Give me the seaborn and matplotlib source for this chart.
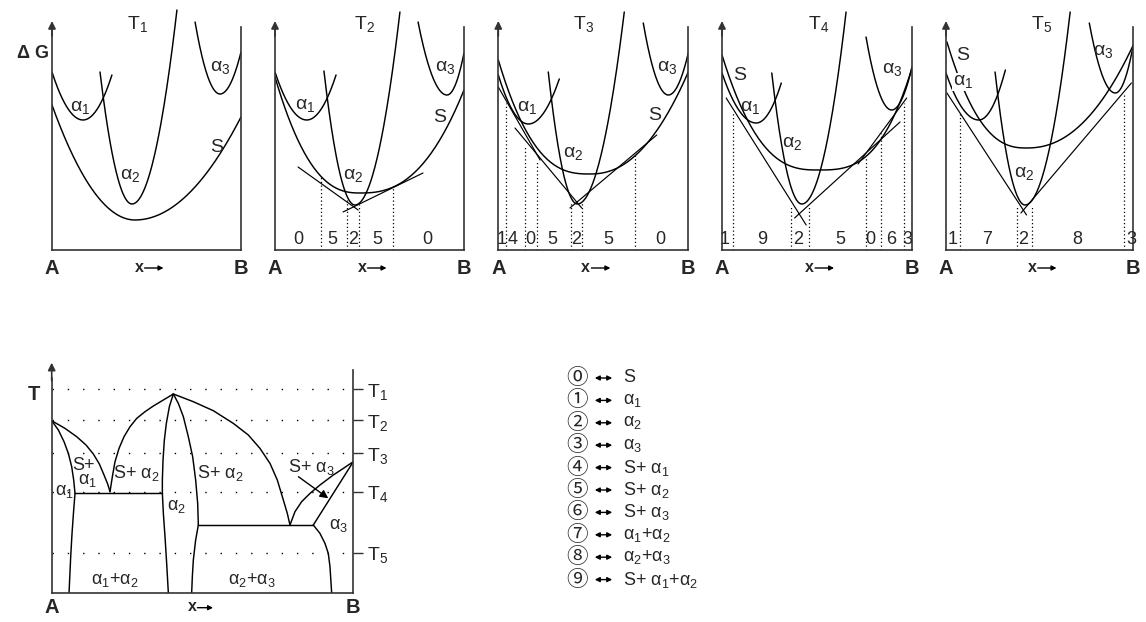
import numpy as np
import matplotlib
matplotlib.use("Agg")
import matplotlib.pyplot as plt
import seaborn as sns

sns.set_theme(style="white")
plt.rcParams["font.family"] = ["Liberation Sans", "DejaVu Sans"]
plt.rcParams["mathtext.fontset"] = "custom"
plt.rcParams["mathtext.rm"] = "Liberation Sans"
plt.rcParams["mathtext.it"] = "Liberation Sans:italic"
plt.rcParams["mathtext.bf"] = "Liberation Sans:bold"

# ------------------------------------------------------------------ data
panel_temps = ["1", "2", "3", "4", "5"]
# free-energy curves: (x_left, x_min, x_right, G_left, G_min, G_right)
alpha1_curves = [(0.0, 0.164, 0.317, 178, 130, 175),
                 (0.0, 0.168, 0.323, 178, 130, 175),
                 (0.0, 0.158, 0.321, 175, 126, 171),
                 (0.0, 0.180, 0.312, 177, 127, 167),
                 (0.0, 0.175, 0.317, 177, 130, 180)]
alpha2_curves = [(0.254, 0.423, 0.661, 178, 46, 240),
                 (0.259, 0.423, 0.661, 179, 45, 238),
                 (0.263, 0.416, 0.663, 178, 46, 238),
                 (0.262, 0.420, 0.653, 177, 46, 238),
                 (0.262, 0.422, 0.663, 178, 45, 238)]
alpha3_curves = [(0.757, 0.889, 1.0, 228, 156, 198),
                 (0.757, 0.910, 1.0, 228, 155, 197),
                 (0.763, 0.895, 1.0, 227, 155, 197),
                 (0.758, 0.893, 1.0, 213, 140, 183),
                 (0.765, 0.904, 1.0, 227, 157, 205)]
s_curves = [(0.0, 0.439, 1.0, 145, 30, 133),
            (0.0, 0.450, 1.0, 173, 57, 160),
            (0.0, 0.484, 1.0, 190, 76, 178),
            (0.0, 0.505, 1.0, 195, 80, 182),
            (0.005, 0.430, 1.0, 208, 102, 205)]
s_steepness = [(2.0, 2.0), (2.5, 2.5), (2.7, 2.2), (2.7, 3.0), (2.5, 2.2)]

# common tangents: (x1, G1, x2, G2)
tangent_lines = [[],
                 [(0.122, 83, 0.44, 40), (0.36, 38, 0.783, 77)],
                 [(0.0, 163, 0.22, 90), (0.088, 122, 0.439, 42), (0.377, 42, 0.834, 115)],
                 [(0.022, 152, 0.443, 25), (0.382, 32, 0.937, 128), (0.716, 86, 0.972, 152)],
                 [(0.005, 157, 0.43, 35), (0.40, 37, 0.99, 167)]]
# dotted composition limits (x, G at the tangent point)
limit_x = [[], [0.242, 0.383, 0.443, 0.623],
           [0.041, 0.141, 0.202, 0.381, 0.439, 0.72],
           [0.06, 0.362, 0.46, 0.756, 0.837, 0.958],
           [0.075, 0.38, 0.458, 0.948]]
limit_G = [[], [73, 50, 46, 62],
           [147, 105, 90, 47, 47, 95],
           [138, 45, 45, 93, 117, 147],
           [137, 43, 43, 155]]
region_x = [[], [0.122, 0.302, 0.413, 0.54, 0.804],
            [0.018, 0.077, 0.167, 0.283, 0.409, 0.577, 0.851],
            [0.016, 0.209, 0.402, 0.621, 0.782, 0.893, 0.975],
            [0.036, 0.218, 0.412, 0.699, 0.988]]
region_codes = [[], ["0", "5", "2", "5", "0"],
                ["1", "4", "0", "5", "2", "5", "0"],
                ["1", "9", "2", "5", "0", "6", "3"],
                ["1", "7", "2", "8", "3"]]
# curve labels (name, x, G)
curve_labels = [[("α$_1$", 0.15, 143), ("α$_2$", 0.415, 75), ("α$_3$", 0.89, 182), ("S", 0.873, 103)],
                [("α$_1$", 0.16, 145), ("α$_2$", 0.415, 75), ("α$_3$", 0.90, 182), ("S", 0.873, 132)],
                [("α$_1$", 0.15, 143), ("α$_2$", 0.395, 97), ("α$_3$", 0.89, 183), ("S", 0.824, 135)],
                [("S", 0.095, 175), ("α$_1$", 0.15, 143), ("α$_2$", 0.37, 107), ("α$_3$", 0.895, 180)],
                [("S", 0.091, 195), ("α$_1$", 0.09, 168), ("α$_2$", 0.415, 77), ("α$_3$", 0.84, 198)]]
temp_label_x = [0.45, 0.476, 0.45, 0.51, 0.51]

# phase diagram
T_levels = [203.3, 172.7, 139.3, 101.0, 40.0]
T_names = ["T$_1$", "T$_2$", "T$_3$", "T$_4$", "T$_5$"]
liquidus_a1_x = [0, 0.0442, 0.0829, 0.1138, 0.1381, 0.158, 0.1735, 0.1856, 0.1934]
liquidus_a1_t = [172, 164.3, 156, 147.7, 138.7, 128.7, 117.7, 108.7, 101]
solidus_a1_x = [0, 0.0221, 0.0409, 0.0552, 0.0663, 0.0729, 0.0773]
solidus_a1_t = [172, 162.7, 151, 139.3, 126, 112.7, 99.3]
solvus_a1_x = [0.0773, 0.0729, 0.0674, 0.063, 0.0575]
solvus_a1_t = [99.3, 82.7, 59.3, 36, 0]
eutectic1_x = [0.0773, 0.3669]
eutectic1_t = [99.3, 99.3]
liquidus_a2l_x = [0.1934, 0.2011, 0.2099, 0.2232, 0.2398, 0.2597, 0.2818, 0.3094, 0.337, 0.3702, 0.4033]
liquidus_a2l_t = [101, 116, 131, 144.3, 156, 166, 174.3, 181, 186.7, 192.7, 198.7]
solidus_a2l_x = [0.4033, 0.3901, 0.3801, 0.3735, 0.3691, 0.3669, 0.3669]
solidus_a2l_t = [198.7, 186, 169.3, 152.7, 132.7, 112.7, 99.3]
solvus_a2l_x = [0.3669, 0.3702, 0.3757, 0.3812, 0.3867]
solvus_a2l_t = [99.3, 79.3, 56, 29.3, 0]
solidus_a2r_x = [0.4033, 0.4199, 0.4365, 0.453, 0.4674, 0.4773, 0.4840, 0.4862]
solidus_a2r_t = [198.7, 189.3, 176, 156, 136, 112.7, 89.3, 67.7]
solvus_a2r_x = [0.4862, 0.4773, 0.4696, 0.4663, 0.4641]
solvus_a2r_t = [67.7, 52.7, 32.7, 16, 0]
eutectic2_x = [0.4862, 0.8674]
eutectic2_t = [67.7, 67.7]
liquidus_a2r_x = [0.4033, 0.4696, 0.5359, 0.6022, 0.6519, 0.6906, 0.7238, 0.748, 0.768, 0.7812, 0.79]
liquidus_a2r_t = [198.7, 191, 182, 169.3, 157.7, 144.3, 129.3, 112.7, 92.7, 79.3, 67.7]
liquidus_a3_x = [0.79, 0.8066, 0.8287, 0.8564, 0.8895, 0.9337, 0.9669, 1.0]
liquidus_a3_t = [67.7, 81, 91, 99.3, 107.7, 117.7, 124.3, 131]
solidus_a3_x = [1.0, 0.8674]
solidus_a3_t = [131, 67.7]
solvus_a3_x = [0.8674, 0.8895, 0.9061, 0.9171, 0.9227, 0.9282]
solvus_a3_t = [67.7, 59.3, 49.3, 39.3, 26, 0]

phase_labels = [("S+", 0.105, 127.7), ("α$_1$", 0.118, 112.7), ("α$_1$", 0.044, 101),
                ("S+ α$_2$", 0.282, 119.4), ("α$_2$", 0.414, 86), ("S+ α$_2$", 0.558, 119.4),
                ("S+ α$_3$", 0.862, 126), ("α$_3$", 0.95, 67.7),
                ("α$_1$+α$_2$", 0.21, 12.7), ("α$_2$+α$_3$", 0.663, 12.7)]

legend_codes = ["⓪", "①", "②", "③", "④", "⑤", "⑥", "⑦", "⑧", "⑨"]
legend_phases = ["S", "α$_1$", "α$_2$", "α$_3$", "S+ α$_1$", "S+ α$_2$", "S+ α$_3$",
                 "α$_1$+α$_2$", "α$_2$+α$_3$", "S+ α$_1$+α$_2$"]

# ------------------------------------------------------------------ drawing
W, H = 1146, 622
fig = plt.figure(figsize=(W / 100, H / 100), dpi=100)
fig.patch.set_facecolor("white")

AX_COL = "#333333"
LW = 1.05


def curve_xy(c, pl=2.0, pr=2.0):
    xl, xv, xr, gl, gv, gr = c
    xa = np.linspace(xl, xv, 80)
    ga = gv + (gl - gv) * ((xv - xa) / (xv - xl)) ** pl
    xb = np.linspace(xv, xr, 80)
    gb = gv + (gr - gv) * ((xb - xv) / (xr - xv)) ** pr
    return np.r_[xa, xb[1:]], np.r_[ga, gb[1:]]


def draw_line(ax, xs, ys, **kw):
    sns.lineplot(x=np.asarray(xs, float), y=np.asarray(ys, float), ax=ax, sort=False,
                 estimator=None, color="black", linewidth=kw.pop("lw", LW), **kw)


panel_left = [52, 275, 498.3, 722, 946]
panel_right = [241, 464, 688.3, 912, 1133.3]
top_bottom_px = 250

for i in range(5):
    L, R = panel_left[i], panel_right[i]
    ax = fig.add_axes([L / W, (H - top_bottom_px) / H, (R - L) / W, top_bottom_px / H])
    ax.set_xlim(0, 1)
    ax.set_ylim(0, 250)
    ax.patch.set_alpha(0)
    ax.set_xticks([])
    ax.set_yticks([])
    ax.spines["top"].set_visible(False)
    for side in ["left", "right", "bottom"]:
        ax.spines[side].set_color(AX_COL)
        ax.spines[side].set_linewidth(1.2)
    ax.spines["left"].set_bounds(0, 220)
    ax.spines["right"].set_bounds(0, 223)
    ax.annotate("", xy=(0, 229), xytext=(0, 214),
                arrowprops=dict(arrowstyle="-|>", color=AX_COL, lw=1.2, mutation_scale=11,
                                shrinkA=0, shrinkB=0), annotation_clip=False)

    for c in (alpha1_curves[i], alpha2_curves[i], alpha3_curves[i]):
        xs, ys = curve_xy(c)
        draw_line(ax, xs, ys)
    pl, pr = s_steepness[i]
    xs, ys = curve_xy(s_curves[i], pl, pr)
    draw_line(ax, xs, ys)

    for (x1, g1, x2, g2) in tangent_lines[i]:
        draw_line(ax, [x1, x2], [g1, g2], lw=0.85)

    if limit_x[i]:
        ax.vlines(limit_x[i], 0, limit_G[i], colors="black", linestyles=(0, (1, 2)), lw=0.9)
    for x, code in zip(region_x[i], region_codes[i]):
        ax.text(x, 11, code, ha="center", va="center", fontsize=13)

    for name, x, g in curve_labels[i]:
        kw = {}
        if i == 4 and name.startswith("α$_1"):
            kw = dict(bbox=dict(facecolor="white", edgecolor="none", pad=0.5))
        ax.text(x, g, name, ha="center", va="center", fontsize=14, zorder=5, **kw)

    ax.text(temp_label_x[i], 226, f"T$_{panel_temps[i]}$", ha="center", va="center", fontsize=14)

    ax.text(0, -18, "A", ha="center", va="center", fontsize=14.5, fontweight="bold", clip_on=False)
    ax.text(1, -18, "B", ha="center", va="center", fontsize=14.5, fontweight="bold", clip_on=False)
    ax.text(0.46, -17, "x", ha="center", va="center", fontsize=11.5, fontweight="bold", clip_on=False)
    ax.annotate("", xy=(0.59, -18), xytext=(0.49, -18),
                arrowprops=dict(arrowstyle="-|>", color="black", lw=1.0, mutation_scale=7,
                                shrinkA=0, shrinkB=0), annotation_clip=False)

fig.text(33 / W, 1 - 53 / H, "Δ G", ha="center", va="center", fontsize=13, fontweight="bold")

# ---------------- phase diagram
pL, pR, pB, pTop = 51.7, 353.3, 592.7, 362
axp = fig.add_axes([pL / W, (H - pB) / H, (pR - pL) / W, (pB - pTop) / H])
axp.set_xlim(0, 1)
axp.set_ylim(0, pB - pTop)
axp.patch.set_alpha(0)
axp.set_xticks([])
axp.spines["top"].set_visible(False)
for side in ["left", "right", "bottom"]:
    axp.spines[side].set_color(AX_COL)
    axp.spines[side].set_linewidth(1.2)
axp.spines["left"].set_bounds(0, 215)
axp.spines["right"].set_bounds(0, 222.7)
axp.annotate("", xy=(0, 230), xytext=(0, 212),
             arrowprops=dict(arrowstyle="-|>", color=AX_COL, lw=1.2, mutation_scale=11,
                             shrinkA=0, shrinkB=0), annotation_clip=False)
axp.yaxis.tick_right()
axp.set_yticks(T_levels)
axp.set_yticklabels(T_names, fontsize=14)
axp.tick_params(axis="y", direction="out", length=7, width=1.0, color=AX_COL, pad=3, right=True, left=False)
axp.hlines(T_levels, 0, 1, colors="black", linestyles=(0, (1, 10)), lw=1.0)

for xs, ts in [(liquidus_a1_x, liquidus_a1_t), (solidus_a1_x, solidus_a1_t),
               (solvus_a1_x, solvus_a1_t), (eutectic1_x, eutectic1_t),
               (liquidus_a2l_x, liquidus_a2l_t), (solidus_a2l_x, solidus_a2l_t),
               (solvus_a2l_x, solvus_a2l_t), (solidus_a2r_x, solidus_a2r_t),
               (solvus_a2r_x, solvus_a2r_t), (eutectic2_x, eutectic2_t),
               (liquidus_a2r_x, liquidus_a2r_t), (liquidus_a3_x, liquidus_a3_t),
               (solidus_a3_x, solidus_a3_t), (solvus_a3_x, solvus_a3_t)]:
    draw_line(axp, xs, ts)

for name, x, t in phase_labels:
    axp.text(x, t, name, ha="center", va="center", fontsize=13)
axp.annotate("", xy=(0.917, 94.4), xytext=(0.818, 116),
             arrowprops=dict(arrowstyle="-|>", color="black", lw=1.0, mutation_scale=12,
                             shrinkA=0, shrinkB=0))
axp.text(-0.06, 198, "T", ha="center", va="center", fontsize=14.5, fontweight="bold", clip_on=False)
axp.text(0, -15, "A", ha="center", va="center", fontsize=14.5, fontweight="bold", clip_on=False)
axp.text(1, -15, "B", ha="center", va="center", fontsize=14.5, fontweight="bold", clip_on=False)
axp.text(0.465, -14, "x", ha="center", va="center", fontsize=11.5, fontweight="bold", clip_on=False)
axp.annotate("", xy=(0.535, -15), xytext=(0.483, -15),
             arrowprops=dict(arrowstyle="-|>", color="black", lw=1.0, mutation_scale=7,
                             shrinkA=0, shrinkB=0), annotation_clip=False)

# ---------------- legend
for k, (code, phase) in enumerate(zip(legend_codes, legend_phases)):
    y = 1 - (378 + 22.4 * k) / H
    fig.text(577 / W, y, code, ha="center", va="center", fontsize=15.5,
             family=["Noto Sans CJK JP", "DejaVu Sans"])
    fig.text(623 / W, y, phase, ha="left", va="center", fontsize=13)
    fig.patches.append(matplotlib.patches.FancyArrowPatch(
        (592 / W, y), (615 / W, y), transform=fig.transFigure, arrowstyle="<|-|>",
        mutation_scale=7, lw=1.0, color="black"))

fig.savefig("out.png", dpi=100)
